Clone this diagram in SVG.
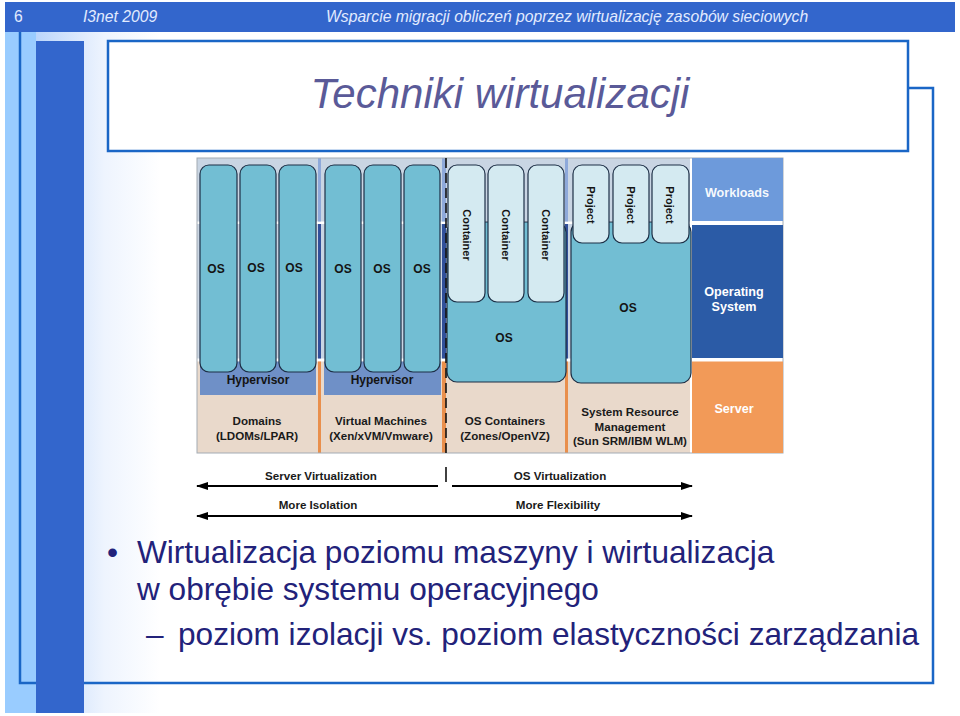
<svg xmlns="http://www.w3.org/2000/svg" width="960" height="716" viewBox="0 0 960 716">
<defs>
<linearGradient id="fade" x1="0" y1="0" x2="1" y2="0">
<stop offset="0" stop-color="#BCD6FB"/>
<stop offset="0.55" stop-color="#EEF4FE"/>
<stop offset="1" stop-color="#FFFFFF"/>
</linearGradient>
<marker id="ah" markerWidth="12" markerHeight="8" refX="11" refY="4" orient="auto-start-reverse" markerUnits="userSpaceOnUse">
<path d="M0,0 L12,4 L0,8 z" fill="#000"/>
</marker>
</defs>
<style>
.hdr{font-family:"Liberation Sans",Arial,sans-serif;font-size:15.7px;fill:#E2EBFF}
.it{font-style:italic}
.f{font-family:"Liberation Sans",Arial,sans-serif;font-weight:bold;text-anchor:middle}
.lbl{font-size:12px;fill:#141414}
.sm{font-size:11px;fill:#141414}
.bot{font-size:11.6px;fill:#1a1a1a}
.wt{font-size:12.6px;fill:#FFFFFF}
.os{fill:#72BED3;stroke:#1D2F46;stroke-width:1.2}
.lt{fill:#D4EAF1;stroke:#1D2F46;stroke-width:1.2}
.hyp{fill:#6F90C7}
.sepU{fill:#8EA9DA}
.sepM{fill:#31509A}
.sepL{fill:#E98F4C}
.arr{stroke:#000;stroke-width:2;fill:none}
.body{font-family:"Liberation Sans",Arial,sans-serif;font-size:31.6px;fill:#22227A}
</style>

<g id="page">
<rect x="0" y="0" width="960" height="716" fill="#FFFFFF"/>
<rect x="5" y="2" width="950" height="30" fill="#3366CC"/>
<text x="14" y="22" class="hdr">6</text>
<text x="83" y="22" class="hdr it">I3net 2009</text>
<text x="326" y="22" class="hdr it">Wsparcie migracji obliczeń poprzez wirtualizację zasobów sieciowych</text>
<rect x="5" y="32" width="31" height="681" fill="#99CCFF"/>
<rect x="36" y="32" width="124" height="681" fill="url(#fade)"/>
<path d="M908,88 H933 V683 H20 V32" fill="none" stroke="#1A66C6" stroke-width="2.5"/>
<rect x="36" y="41" width="48" height="672" fill="#3366CC"/>
<rect x="108" y="41" width="800" height="110" fill="#FFFFFF" stroke="#1A66C6" stroke-width="2.5"/>
<text x="500" y="108" font-family="Liberation Sans, Arial, sans-serif" font-style="italic" font-size="42" fill="#5A5A98" text-anchor="middle">Techniki wirtualizacji</text>
</g>

<g id="diagram-background">
<rect x="197" y="158" width="493" height="202" fill="#C9D5E3"/>
<rect x="197" y="360" width="493" height="93" fill="#E9D9CB"/>
<rect x="197" y="221.5" width="493" height="2.5" fill="#FFFFFF"/>
<rect x="197" y="358.5" width="493" height="3" fill="#FFFFFF"/>
<rect x="318" y="158" width="3" height="63.5" class="sepU"/>
<rect x="318" y="224" width="3" height="134.5" class="sepM"/>
<rect x="318" y="361.5" width="3" height="91.5" class="sepL"/>
<rect x="442" y="158" width="4" height="63.5" class="sepU"/>
<rect x="442" y="224" width="4" height="134.5" class="sepM"/>
<rect x="442" y="361.5" width="4" height="91.5" class="sepL"/>
<rect x="565" y="158" width="3" height="63.5" class="sepU"/>
<rect x="565" y="224" width="3" height="134.5" class="sepM"/>
<rect x="565" y="361.5" width="3" height="91.5" class="sepL"/>
<rect x="197" y="158" width="586" height="295" fill="none" stroke="#A3ABB4" stroke-width="1"/>
</g>

<g id="domains">
<rect x="200" y="361.5" width="116" height="33.5" class="hyp"/>
<rect x="200" y="165" width="37" height="207" rx="9" class="os"/>
<rect x="240" y="165" width="36" height="207" rx="9" class="os"/>
<rect x="279" y="165" width="37" height="207" rx="9" class="os"/>
<text x="216" y="273" class="f lbl">OS</text>
<text x="256" y="272" class="f lbl">OS</text>
<text x="294" y="272" class="f lbl">OS</text>
<text x="258" y="384" class="f lbl">Hypervisor</text>
<text x="257" y="425" class="f bot">Domains</text>
<text x="257" y="440" class="f bot">(LDOMs/LPAR)</text>
</g>

<g id="virtual-machines">
<rect x="324" y="361.5" width="117" height="33.5" class="hyp"/>
<rect x="325" y="165" width="36" height="207" rx="9" class="os"/>
<rect x="364" y="165" width="37" height="207" rx="9" class="os"/>
<rect x="404" y="165" width="36" height="207" rx="9" class="os"/>
<text x="343" y="273" class="f lbl">OS</text>
<text x="382" y="273" class="f lbl">OS</text>
<text x="422" y="273" class="f lbl">OS</text>
<text x="382" y="384" class="f lbl">Hypervisor</text>
<text x="381" y="425" class="f bot">Virtual Machines</text>
<text x="381" y="440" class="f bot">(Xen/xVM/Vmware)</text>
</g>

<g id="os-containers">
<rect x="447" y="222" width="119" height="160" rx="10" class="os"/>
<rect x="448" y="165" width="37" height="137" rx="9" class="lt"/>
<rect x="488" y="165" width="36" height="137" rx="9" class="lt"/>
<rect x="528" y="165" width="36" height="137" rx="9" class="lt"/>
<text x="466.5" y="235" class="f sm" dominant-baseline="central" transform="rotate(90 466.5 235)">Container</text>
<text x="506" y="235" class="f sm" dominant-baseline="central" transform="rotate(90 506 235)">Container</text>
<text x="546" y="235" class="f sm" dominant-baseline="central" transform="rotate(90 546 235)">Container</text>
<text x="504" y="342" class="f lbl">OS</text>
<text x="505" y="425" class="f bot">OS Containers</text>
<text x="505" y="440" class="f bot">(Zones/OpenVZ)</text>
</g>

<g id="system-resource-management">
<rect x="571" y="222" width="120" height="161" rx="10" class="os"/>
<rect x="573" y="165" width="36" height="78" rx="9" class="lt"/>
<rect x="613" y="165" width="36" height="78" rx="9" class="lt"/>
<rect x="652" y="165" width="37" height="78" rx="9" class="lt"/>
<text x="591" y="205" class="f sm" dominant-baseline="central" transform="rotate(90 591 205)">Project</text>
<text x="631" y="205" class="f sm" dominant-baseline="central" transform="rotate(90 631 205)">Project</text>
<text x="670" y="205" class="f sm" dominant-baseline="central" transform="rotate(90 670 205)">Project</text>
<text x="628" y="312" class="f lbl">OS</text>
<text x="630" y="416" class="f bot">System Resource</text>
<text x="630" y="431" class="f bot">Management</text>
<text x="630" y="445" class="f bot">(Sun SRM/IBM WLM)</text>
</g>

<g id="workloads">
<rect x="692" y="158" width="91" height="63" fill="#6D9ADB"/>
<text x="737" y="197" class="f wt" fill-opacity="0.95">Workloads</text>
</g>
<g id="operating-system">
<rect x="692" y="225" width="91" height="133" fill="#2B5BA6"/>
<text x="734" y="296" class="f wt">Operating</text>
<text x="734" y="311" class="f wt">System</text>
</g>
<g id="server">
<rect x="692" y="361.5" width="91" height="91.5" fill="#F29A58"/>
<text x="734" y="413" class="f wt" fill="#FDF0E4">Server</text>
</g>

<g id="connectors">
<line x1="446" y1="158" x2="446" y2="458" stroke="#111" stroke-width="1.6" stroke-dasharray="10,5"/>
<line x1="446" y1="467" x2="446" y2="482" stroke="#111" stroke-width="1.6"/>
<line x1="438" y1="486" x2="197" y2="486" class="arr" marker-end="url(#ah)"/>
<line x1="452" y1="486" x2="692" y2="486" class="arr" marker-end="url(#ah)"/>
<line x1="197" y1="516" x2="692" y2="516" class="arr" marker-start="url(#ah)" marker-end="url(#ah)"/>
</g>

<g id="arrow-labels">
<text x="321" y="480" class="f bot">Server Virtualization</text>
<text x="560" y="480" class="f bot">OS Virtualization</text>
<text x="318" y="509" class="f bot">More Isolation</text>
<text x="558" y="509" class="f bot">More Flexibility</text>
</g>

<g id="bullets">
<text x="107" y="563" class="body">•</text>
<text x="137" y="563" class="body">Wirtualizacja poziomu maszyny i wirtualizacja</text>
<text x="137" y="600" class="body">w obrębie systemu operacyjnego</text>
<text x="146" y="645" class="body">–</text>
<text x="178" y="645" class="body">poziom izolacji vs. poziom elastyczności zarządzania</text>
</g>
</svg>
